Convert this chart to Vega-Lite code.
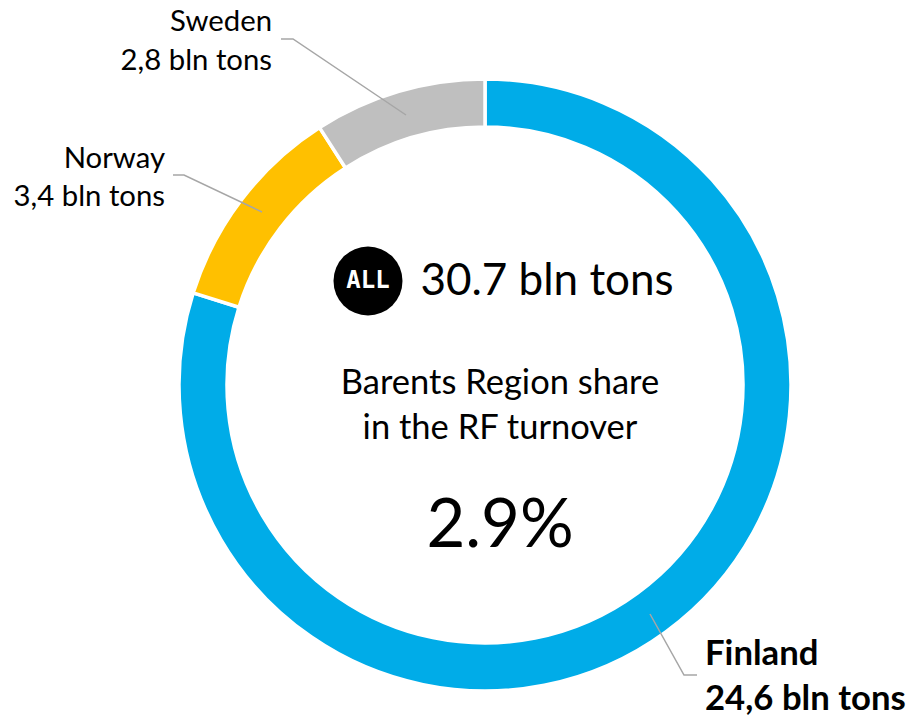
{
"$schema":"https://vega.github.io/schema/vega-lite/v6.json",
"width":910,"height":717,"autosize":{"type":"fit","contains":"padding"},"padding":0,
"background":"white",
"config":{"view":{"stroke":null}},
"datasets":{
"shares":[{"country":"Finland","turnover":24.6,"rank":1,"x":0,"y":0},{"country":"Norway","turnover":3.4,"rank":2,"x":0,"y":0},{"country":"Sweden","turnover":2.8,"rank":3,"x":0,"y":0}],
"leaders":[
{"id":"Sweden","seq":1,"x":-204,"y":346},{"id":"Sweden","seq":2,"x":-192,"y":346},{"id":"Sweden","seq":3,"x":-79,"y":270},
{"id":"Norway","seq":1,"x":-312,"y":210},{"id":"Norway","seq":2,"x":-301,"y":210},{"id":"Norway","seq":3,"x":-223,"y":173},
{"id":"Finland","seq":1,"x":165,"y":-229},{"id":"Finland","seq":2,"x":199,"y":-290},{"id":"Finland","seq":3,"x":212,"y":-290}
],
"icon":[{"x":-117,"y":104,"t":"ALL"}],
"total":[{"x":62,"y":103,"t":"30.7 bln tons"}],
"share":[{"x":15,"y":1,"t":"Barents Region share"},{"x":15,"y":-44,"t":"in the RF turnover"}],
"pct":[{"x":15,"y":-142,"t":"2.9%"}],
"right":[{"x":-213,"y":363,"t":"Sweden"},{"x":-213,"y":324,"t":"2,8 bln tons"},{"x":-320,"y":226,"t":"Norway"},{"x":-320,"y":188,"t":"3,4 bln tons"}],
"left":[{"x":220,"y":-270,"t":"Finland"},{"x":220,"y":-315,"t":"24,6 bln tons"}]
},
"encoding":{
"x":{"field":"x","type":"quantitative","scale":{"domain":[-485,425],"nice":false,"zero":false},"axis":null},
"y":{"field":"y","type":"quantitative","scale":{"domain":[-332,385],"nice":false,"zero":false},"axis":null}
},
"layer":[
{"data":{"name":"shares"},
"mark":{"type":"arc","innerRadius":258,"outerRadius":306,"stroke":"white","strokeWidth":3.5},
"encoding":{
"theta":{"field":"turnover","type":"quantitative","stack":true},
"order":{"field":"rank"},
"color":{"field":"country","type":"nominal","legend":null,"scale":{"domain":["Finland","Norway","Sweden"],"range":["#00ACE8","#FFC000","#BFBFBF"]}}}},
{"data":{"name":"leaders"},"mark":{"type":"line","color":"#A6A6A6","strokeWidth":1.5},
"encoding":{"detail":{"field":"id"},"order":{"field":"seq"}}},
{"data":{"name":"icon"},"mark":{"type":"point","filled":true,"color":"black","opacity":1,"size":4761}},
{"data":{"name":"icon"},"mark":{"type":"text","color":"white","font":"DejaVu Sans Mono","fontWeight":"bold","fontSize":24,"baseline":"middle"},
"encoding":{"text":{"field":"t"}}},
{"data":{"name":"total"},"mark":{"type":"text","font":"Lato","color":"black","baseline":"middle","fontSize":44},
"encoding":{"text":{"field":"t"}}},
{"data":{"name":"share"},"mark":{"type":"text","font":"Lato","color":"black","baseline":"middle","fontSize":34.5},
"encoding":{"text":{"field":"t"}}},
{"data":{"name":"pct"},"mark":{"type":"text","font":"Lato","color":"black","baseline":"middle","fontSize":67},
"encoding":{"text":{"field":"t"}}},
{"data":{"name":"right"},"mark":{"type":"text","font":"Lato","color":"black","baseline":"middle","align":"right","fontSize":29.3},
"encoding":{"text":{"field":"t"}}},
{"data":{"name":"left"},"mark":{"type":"text","font":"Lato","color":"black","baseline":"middle","align":"left","fontSize":34.7,"fontWeight":"bold"},
"encoding":{"text":{"field":"t"}}}
]
}
